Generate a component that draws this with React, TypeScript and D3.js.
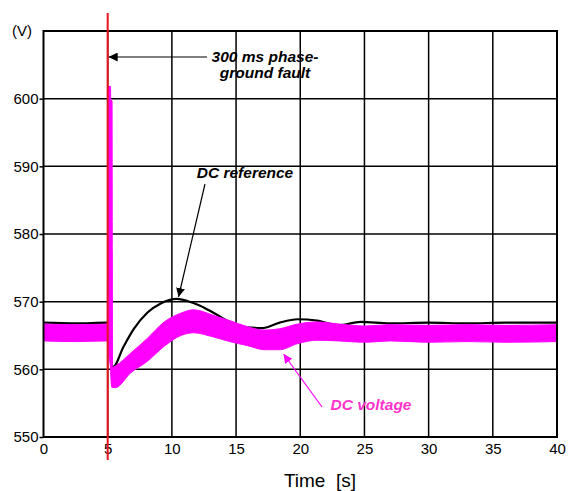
import { useEffect, useRef } from "react";
import * as d3 from "d3";

// DC reference (black trace)
const refTime = [0, 2.5, 4.95, 5.05, 5.15, 5.3, 5.4, 6.25, 7.05, 8.1, 9.1, 10.4, 11.2, 12.2, 13.2, 14.5, 15.8, 17.1, 18.4, 19.8, 21.3, 23, 24.7, 27, 30, 33, 36, 40];
const refValue = [566.9, 566.8, 566.9, 566.4, 563.5, 561.0, 560.3, 563.4, 566.0, 568.4, 569.7, 570.4, 570.1, 569.4, 568.4, 567.0, 566.2, 566.1, 566.9, 567.4, 567.2, 566.5, 567.0, 566.8, 566.9, 566.8, 566.9, 566.9];

// DC voltage (magenta band, upper / lower envelope)
const volTime = [0, 2.5, 4.97, 5.02, 5.22, 5.24, 5.34, 5.38, 5.6, 6.8, 8.1, 9.4, 10.7, 11.7, 13.2, 14.5, 15.9, 17.2, 18.4, 19.8, 21.3, 23, 25, 27, 30, 33, 36, 40];
const volUpper = [566.7, 566.6, 566.7, 601.8, 601.8, 599.7, 599.7, 560.3, 560.5, 562.4, 564.6, 567.0, 568.3, 568.8, 568.0, 567.2, 566.3, 565.8, 566.0, 566.7, 567.0, 566.7, 566.4, 566.6, 566.5, 566.6, 566.5, 566.6];
const volLower = [564.2, 564.1, 564.2, 563.0, 560.0, 559.0, 557.3, 557.3, 557.3, 559.5, 561.2, 563.4, 565.0, 565.4, 564.8, 564.1, 563.5, 562.9, 562.9, 563.8, 564.3, 564.2, 564.0, 564.2, 564.0, 564.1, 564.0, 564.1];

const xTicks = [0, 5, 10, 15, 20, 25, 30, 35, 40];
const yTicks = [550, 560, 570, 580, 590, 600];
const yGrid = [560, 570, 580, 590, 600];
const faultTime = 5;

export default function App() {
  const svgRef = useRef<SVGSVGElement>(null);

  useEffect(() => {
    const width = 570;
    const height = 491;
    const font = "'Liberation Sans', Arial, sans-serif";

    const svg = d3.select(svgRef.current);
    svg.selectAll("*").remove();

    const x = d3.scaleLinear().domain([0, 40]).range([43.5, 557]);
    const y = d3.scaleLinear().domain([550, 610]).range([437, 31]);

    svg.append("rect").attr("width", width).attr("height", height).attr("fill", "white");

    // arrow heads
    const defs = svg.append("defs");
    const mk = (id: string, color: string) =>
      defs.append("marker")
        .attr("id", id)
        .attr("viewBox", "0 0 10 10")
        .attr("refX", 10).attr("refY", 5)
        .attr("markerWidth", 9).attr("markerHeight", 9)
        .attr("markerUnits", "userSpaceOnUse")
        .attr("orient", "auto")
        .append("path").attr("d", "M0,0 L10,5 L0,10 Z").attr("fill", color);
    mk("arrBlack", "black");
    mk("arrPink", "#ff00ff");

    // grid
    svg.append("g").selectAll("line.v")
      .data(xTicks.slice(1, -1)).enter().append("line")
      .attr("x1", d => x(d)).attr("x2", d => x(d))
      .attr("y1", y(610)).attr("y2", y(550))
      .attr("stroke", "black").attr("stroke-width", 1.5);
    svg.append("g").selectAll("line.h")
      .data(yGrid).enter().append("line")
      .attr("x1", x(0)).attr("x2", x(40))
      .attr("y1", d => y(d)).attr("y2", d => y(d))
      .attr("stroke", "black").attr("stroke-width", 1.5);

    // DC reference
    const refData = refTime.map((t, i) => [t, refValue[i]] as [number, number]);
    svg.append("path")
      .datum(refData)
      .attr("d", d3.line<[number, number]>().x(d => x(d[0])).y(d => y(d[1])).curve(d3.curveMonotoneX))
      .attr("fill", "none").attr("stroke", "black").attr("stroke-width", 2.2);

    // DC voltage band
    const volData = volTime.map((t, i) => ({ t, hi: volUpper[i], lo: volLower[i] }));
    svg.append("path")
      .datum(volData)
      .attr("d", d3.area<{ t: number; hi: number; lo: number }>()
        .x(d => x(d.t)).y0(d => y(d.lo)).y1(d => y(d.hi)).curve(d3.curveMonotoneX))
      .attr("fill", "#ff00ff").attr("stroke", "#ff00ff").attr("stroke-width", 1);

    // frame
    svg.append("rect")
      .attr("x", x(0)).attr("y", y(610))
      .attr("width", x(40) - x(0)).attr("height", y(550) - y(610))
      .attr("fill", "none").attr("stroke", "black").attr("stroke-width", 2);

    // axes
    const yAxis = svg.append("g")
      .attr("transform", `translate(${x(0)},0)`)
      .call(d3.axisLeft(y).tickValues(yTicks).tickSize(4).tickPadding(1).tickFormat(d3.format("d")));
    yAxis.select(".domain").remove();
    yAxis.selectAll("line").attr("stroke", "black").attr("stroke-width", 1.5);
    yAxis.selectAll("text").attr("font-family", font).attr("font-size", 15).attr("fill", "black");

    const xAxis = svg.append("g")
      .attr("transform", `translate(0,${y(550)})`)
      .call(d3.axisBottom(x).tickValues(xTicks).tickSize(0).tickPadding(6).tickFormat(d3.format("d")));
    xAxis.select(".domain").remove();
    xAxis.selectAll("text").attr("font-family", font).attr("font-size", 15).attr("fill", "black");

    svg.append("text").attr("x", 12).attr("y", 36)
      .attr("font-family", font).attr("font-size", 15).text("(V)");

    svg.append("text").attr("x", 320).attr("y", 487)
      .attr("text-anchor", "middle").attr("font-family", font).attr("font-size", 19)
      .attr("xml:space", "preserve").text("Time  [s]");

    // fault marker
    svg.append("line")
      .attr("x1", x(faultTime)).attr("x2", x(faultTime))
      .attr("y1", 13).attr("y2", 460)
      .attr("stroke", "#e8141c").attr("stroke-width", 2);

    // annotations
    const ann = svg.append("g").attr("font-family", font).attr("font-weight", "bold").attr("font-style", "italic").attr("font-size", 15.5);
    ann.append("text").attr("x", 265).attr("y", 62).attr("text-anchor", "middle").text("300 ms phase-");
    ann.append("text").attr("x", 265).attr("y", 78).attr("text-anchor", "middle").text("ground fault");
    svg.append("line")
      .attr("x1", 207).attr("y1", 57).attr("x2", x(faultTime) + 1).attr("y2", 57)
      .attr("stroke", "black").attr("stroke-width", 1.2).attr("marker-end", "url(#arrBlack)");

    ann.append("text").attr("x", 245).attr("y", 178).attr("text-anchor", "middle").text("DC reference");
    svg.append("line")
      .attr("x1", 205).attr("y1", 184).attr("x2", 178.5).attr("y2", 297)
      .attr("stroke", "black").attr("stroke-width", 1.2).attr("marker-end", "url(#arrBlack)");

    ann.append("text").attr("x", 371).attr("y", 410).attr("text-anchor", "middle").attr("fill", "#ff33cc").text("DC voltage");
    svg.append("line")
      .attr("x1", 322).attr("y1", 407).attr("x2", 283.5).attr("y2", 354)
      .attr("stroke", "#ff00ff").attr("stroke-width", 1.2).attr("marker-end", "url(#arrPink)");
  }, []);

  return (
    <svg ref={svgRef} width={570} height={491} style={{ position: "absolute", left: 0, top: 0 }} />
  );
}
